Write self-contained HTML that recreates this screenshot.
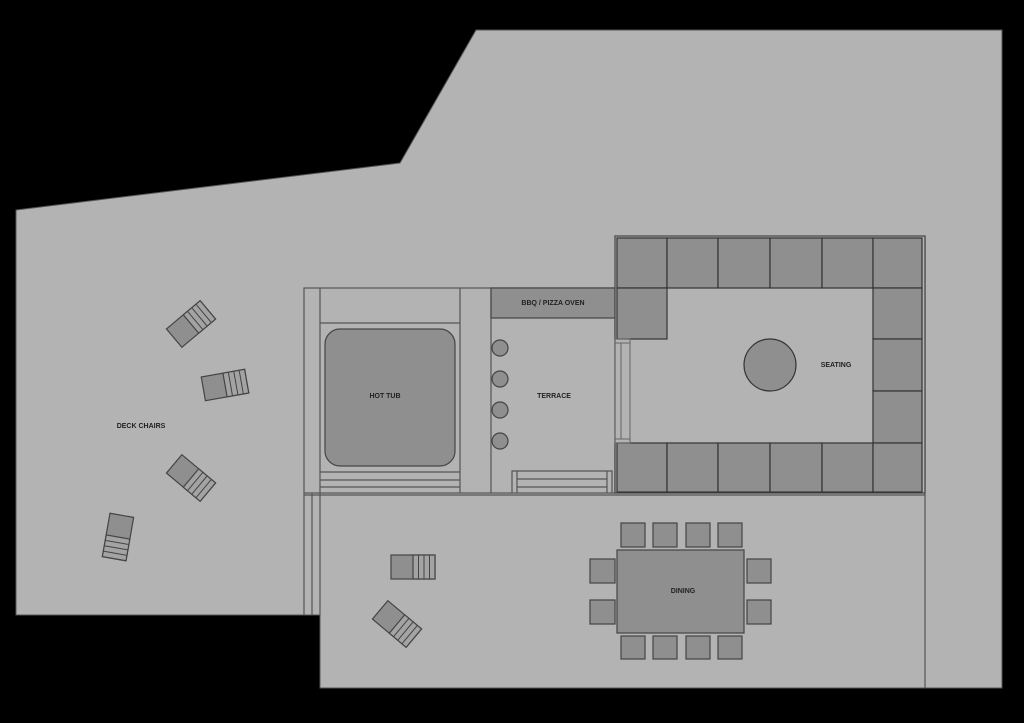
<!DOCTYPE html>
<html><head><style>html,body{margin:0;padding:0;background:#000;}svg{display:block}text{font-family:"Liberation Sans",sans-serif;font-size:7px;font-weight:bold;fill:#222;text-anchor:middle}</style></head><body>
<svg width="1024" height="723" viewBox="0 0 1024 723" xmlns="http://www.w3.org/2000/svg">
<defs>
<g id="ch"><rect x="-22" y="-12" width="44" height="24" fill="#8f8f8f" stroke="#444" stroke-width="1.2"/><rect x="0" y="-12" width="22" height="24" fill="#a3a3a3" stroke="#444" stroke-width="1.2"/><line x1="5.5" y1="-12" x2="5.5" y2="12" stroke="#444"/><line x1="11" y1="-12" x2="11" y2="12" stroke="#444"/><line x1="16.5" y1="-12" x2="16.5" y2="12" stroke="#444"/></g>
</defs>
<rect width="1024" height="723" fill="#000"/>
<polygon points="16,210 400,163 476,30 1002,30 1002,688 320,688 320,615 16,615" fill="#b3b3b3" stroke="#555" stroke-width="1"/>
<g stroke="#555" stroke-width="1.2" fill="none">
<line x1="925" y1="237" x2="925" y2="688"/>
<rect x="304" y="288" width="311" height="205"/>
<line x1="304" y1="493" x2="304" y2="615"/>
<line x1="312" y1="493" x2="312" y2="615"/>
<line x1="320" y1="288" x2="320" y2="615"/>
<line x1="320" y1="485" x2="925" y2="485" stroke="none"/>
<line x1="304" y1="495" x2="925" y2="495"/>
<line x1="460" y1="288" x2="460" y2="493"/>
<line x1="491" y1="288" x2="491" y2="493"/>
<line x1="320" y1="323" x2="460" y2="323"/>
<line x1="320" y1="472" x2="460" y2="472"/>
<line x1="320" y1="480" x2="460" y2="480"/>
<line x1="320" y1="487" x2="460" y2="487"/>
<polyline points="512,493 512,471 612,471 612,493"/>
<line x1="517" y1="471" x2="517" y2="493"/>
<line x1="607" y1="471" x2="607" y2="493"/>
<line x1="517" y1="479" x2="607" y2="479"/>
<line x1="517" y1="487" x2="607" y2="487"/>
</g>
<rect x="325" y="329" width="130" height="137" rx="15" fill="#8f8f8f" stroke="#444" stroke-width="1.2"/>
<rect x="491" y="288" width="124" height="30" fill="#8f8f8f" stroke="#444" stroke-width="1.2"/>
<g fill="#8f8f8f" stroke="#444" stroke-width="1.2"><circle cx="500" cy="348" r="8"/><circle cx="500" cy="379" r="8"/><circle cx="500" cy="410" r="8"/><circle cx="500" cy="441" r="8"/></g>
<!-- seating -->
<rect x="615" y="236" width="310" height="257" fill="#b3b3b3" stroke="#444" stroke-width="1.2"/>
<g fill="#8f8f8f" stroke="#333" stroke-width="1.2">
<rect x="617" y="238" width="50" height="50"/><rect x="667" y="238" width="51" height="50"/><rect x="718" y="238" width="52" height="50"/><rect x="770" y="238" width="52" height="50"/><rect x="822" y="238" width="51" height="50"/><rect x="873" y="238" width="49" height="50"/>
<rect x="617" y="288" width="50" height="51"/>
<rect x="873" y="288" width="49" height="51"/><rect x="873" y="339" width="49" height="52"/><rect x="873" y="391" width="49" height="52"/>
<rect x="617" y="443" width="50" height="49"/><rect x="667" y="443" width="51" height="49"/><rect x="718" y="443" width="52" height="49"/><rect x="770" y="443" width="52" height="49"/><rect x="822" y="443" width="51" height="49"/><rect x="873" y="443" width="49" height="49"/>
<circle cx="770" cy="365" r="26"/>
</g>
<g stroke="#666" fill="none"><rect x="615" y="339" width="15" height="104"/><line x1="615" y1="343" x2="630" y2="343"/><line x1="615" y1="439" x2="630" y2="439"/><line x1="621" y1="343" x2="621" y2="439"/></g>
<!-- dining -->
<g fill="#8f8f8f" stroke="#444" stroke-width="1.2">
<rect x="621" y="523" width="24" height="24"/><rect x="653" y="523" width="24" height="24"/><rect x="686" y="523" width="24" height="24"/><rect x="718" y="523" width="24" height="24"/>
<rect x="621" y="636" width="24" height="23"/><rect x="653" y="636" width="24" height="23"/><rect x="686" y="636" width="24" height="23"/><rect x="718" y="636" width="24" height="23"/>
<rect x="590" y="559" width="25" height="24"/><rect x="590" y="600" width="25" height="24"/>
<rect x="747" y="559" width="24" height="24"/><rect x="747" y="600" width="24" height="24"/>
<rect x="617" y="550" width="127" height="83"/>
</g>
<use href="#ch" transform="translate(191,324) rotate(-40)"/>
<use href="#ch" transform="translate(225,385) rotate(-10)"/>
<use href="#ch" transform="translate(191,478) rotate(40)"/>
<use href="#ch" transform="translate(118,537) rotate(100)"/>
<use href="#ch" transform="translate(413,567)"/>
<use href="#ch" transform="translate(397,624) rotate(40)"/>
<text x="385" y="398">HOT TUB</text>
<text x="554" y="398">TERRACE</text>
<text x="553" y="305">BBQ / PIZZA OVEN</text>
<text x="836" y="367">SEATING</text>
<text x="683" y="593">DINING</text>
<text x="141" y="428">DECK CHAIRS</text>
</svg>
</body></html>
